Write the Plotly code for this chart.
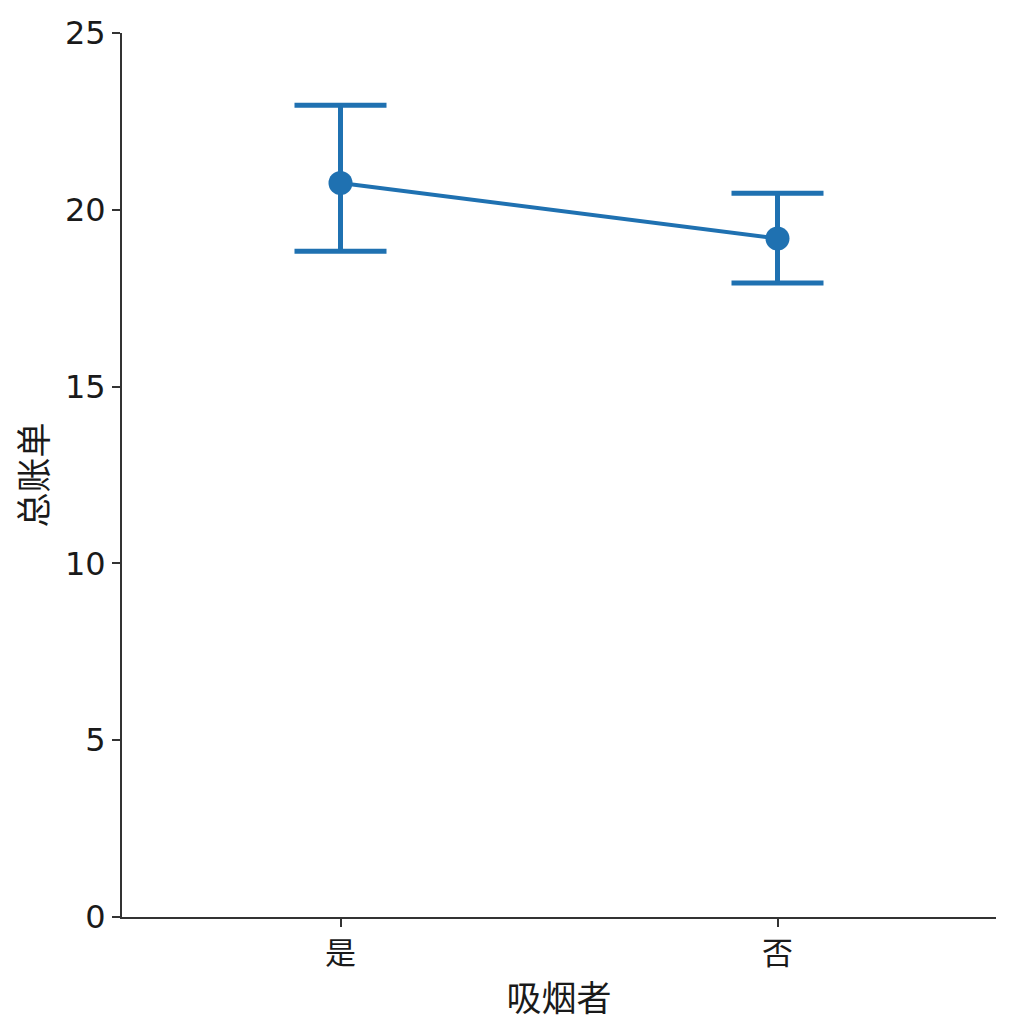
import plotly.graph_objects as go

# 吸烟者 vs 平均总账单 (seaborn pointplot 风格)
smoker = ["是", "否"]
bill_mean = [20.76, 19.19]
ci_low = [18.83, 17.93]
ci_high = [22.96, 20.47]

err_plus = [h - m for h, m in zip(ci_high, bill_mean)]
err_minus = [m - l for m, l in zip(bill_mean, ci_low)]

blue = "#1f71b1"
cjk = "DejaVu Sans, Noto Sans CJK SC"

fig = go.Figure(go.Scatter(
    x=smoker,
    y=bill_mean,
    mode="lines+markers",
    line=dict(color=blue, width=4),
    marker=dict(color=blue, size=24),
    error_y=dict(type="data", array=err_plus, arrayminus=err_minus,
                 color=blue, thickness=5, width=46),
    showlegend=False,
))

fig.update_layout(
    width=1024, height=1027,
    paper_bgcolor="white", plot_bgcolor="white",
    margin=dict(l=114, r=36, t=25, b=118),
    font=dict(family=cjk, size=29, color="#1a1a1a"),
)
fig.update_xaxes(
    title_text="吸烟者", title_standoff=16, automargin=False,
    range=[-0.5, 1.5], tickfont=dict(size=31),
    showline=True, linecolor="#333", linewidth=2,
    ticks="outside", ticklen=8, tickwidth=1.5, tickcolor="#333",
    showgrid=False, zeroline=False,
)
fig.update_yaxes(
    title_text="总账单", title_standoff=7, automargin=False,
    range=[0, 25], tickvals=[0, 5, 10, 15, 20, 25],
    tickfont=dict(size=32),
    showline=True, linecolor="#333", linewidth=2,
    ticks="outside", ticklen=8, tickwidth=1.5, tickcolor="#333",
    showgrid=False, zeroline=False,
)

fig.write_html("out.html")
